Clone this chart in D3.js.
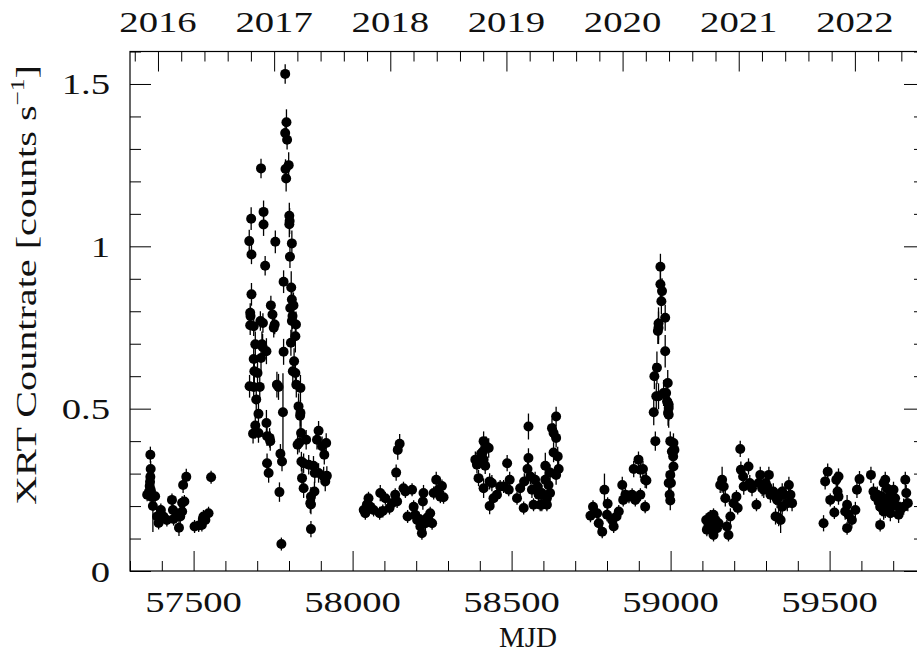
<!DOCTYPE html>
<html><head><meta charset="utf-8">
<script src="https://cdn.jsdelivr.net/npm/d3@7"></script>
<style>
body{margin:0;background:#fff}
svg{display:block}
text{font-family:"Liberation Serif","DejaVu Serif",serif;fill:#111}
</style>
</head><body>
<svg id="c" width="917" height="652"></svg>
<script>
// ---- tick labels ----
const mjdTicks = [57500, 58000, 58500, 59000, 59500];
const yearTicks = [2016, 2017, 2018, 2019, 2020, 2021, 2022];
const rateTicks = [0, 0.5, 1, 1.5];

// ---- observations: [MJD, XRT rate (counts/s), error] per season ----
const season2016 = [
 [57364,0.358,0.025],[57365,0.314,0.025],[57364,0.290,0.025],[57363,0.275,0.025],[57362,0.262,0.02],
 [57365,0.250,0.02],[57354,0.235,0.02],[57379,0.230,0.02],[57360,0.245,0.02],[57368,0.228,0.02],
 [57372,0.200,0.08],[57397,0.188,0.02],[57385,0.168,0.02],[57390,0.148,0.02],[57405,0.168,0.02],
 [57416,0.157,0.02],[57432,0.219,0.02],[57435,0.188,0.02],[57437,0.160,0.02],[57448,0.173,0.02],
 [57454,0.133,0.025],[57458,0.168,0.02],[57464,0.210,0.02],[57471,0.214,0.02],[57464,0.183,0.02],
 [57467,0.265,0.025],[57477,0.290,0.025],[57503,0.137,0.02],[57516,0.140,0.02],[57526,0.142,0.02],
 [57531,0.168,0.02],[57529,0.160,0.02],[57547,0.178,0.02],[57537,0.157,0.02],[57555,0.289,0.02]
];
const season2017 = [
 [57788,1.531,0.03],[57792,1.382,0.04],[57788,1.349,0.03],[57794,1.328,0.03],[57799,1.250,0.04],
 [57789,1.238,0.03],[57791,1.209,0.04],[57712,1.240,0.03],[57681,1.085,0.035],[57720,1.106,0.035],
 [57720,1.067,0.035],[57801,1.094,0.04],[57802,1.078,0.04],[57801,1.068,0.04],[57675,1.016,0.035],
 [57757,1.014,0.035],[57809,1.009,0.04],[57682,0.975,0.03],[57803,0.968,0.035],[57725,0.940,0.03],
 [57783,0.891,0.035],[57807,0.873,0.05],[57682,0.852,0.035],[57809,0.836,0.04],[57804,0.810,0.04],
 [57814,0.818,0.04],[57743,0.818,0.03],[57748,0.790,0.03],[57678,0.795,0.03],[57679,0.785,0.03],
 [57811,0.785,0.04],[57755,0.759,0.03],[57678,0.757,0.03],[57689,0.754,0.03],[57710,0.770,0.03],
 [57718,0.764,0.03],[57809,0.770,0.04],[57822,0.759,0.04],[57752,0.749,0.03],[57820,0.723,0.05],
 [57694,0.698,0.04],[57715,0.698,0.04],[57717,0.690,0.04],[57806,0.703,0.04],[57729,0.677,0.04],
 [57689,0.653,0.04],[57712,0.656,0.04],[57783,0.675,0.04],[57816,0.646,0.04],[57812,0.615,0.04],
 [57820,0.610,0.04],[57691,0.615,0.04],[57701,0.610,0.04],[57676,0.569,0.035],[57689,0.567,0.035],
 [57708,0.567,0.04],[57762,0.574,0.04],[57767,0.567,0.04],[57823,0.574,0.04],[57836,0.564,0.04],
 [57697,0.528,0.04],[57781,0.489,0.12],[57830,0.507,0.04],[57836,0.487,0.04],[57835,0.478,0.04],
 [57704,0.484,0.04],[57729,0.456,0.04],[57694,0.448,0.04],[57687,0.423,0.03],[57704,0.425,0.03],
 [57731,0.415,0.03],[57741,0.400,0.03],[57739,0.410,0.03],[57838,0.425,0.04],[57854,0.404,0.03],
 [57827,0.389,0.03],[57832,0.395,0.03],[57893,0.432,0.03],[57888,0.404,0.03],[57917,0.394,0.03],
 [57904,0.384,0.03],[57911,0.358,0.03],[57773,0.361,0.03],[57778,0.337,0.03],[57731,0.332,0.03],
 [57736,0.302,0.03],[57839,0.337,0.03],[57846,0.332,0.03],[57862,0.327,0.03],[57877,0.324,0.03],
 [57881,0.302,0.03],[57893,0.302,0.03],[57909,0.291,0.03],[57919,0.293,0.03],[57914,0.276,0.03],
 [57841,0.286,0.03],[57846,0.255,0.03],[57880,0.245,0.03],[57869,0.229,0.03],[57867,0.209,0.03],
 [57869,0.205,0.03],[57770,0.243,0.03],[57869,0.129,0.025],[57776,0.083,0.02]
];
const season2018 = [
 [58035,0.188,0.02],[58040,0.178,0.02],[58045,0.205,0.02],[58050,0.224,0.02],[58056,0.198,0.02],
 [58066,0.188,0.02],[58085,0.178,0.02],[58087,0.240,0.025],[58095,0.185,0.02],[58103,0.224,0.02],
 [58116,0.194,0.02],[58124,0.209,0.02],[58134,0.235,0.02],[58140,0.214,0.02],[58137,0.303,0.025],
 [58142,0.373,0.03],[58148,0.392,0.03],[58160,0.255,0.02],[58166,0.245,0.02],[58187,0.250,0.02],
 [58173,0.168,0.02],[58192,0.198,0.02],[58197,0.173,0.02],[58203,0.157,0.02],[58210,0.160,0.02],
 [58213,0.137,0.02],[58218,0.116,0.02],[58223,0.240,0.025],[58221,0.214,0.025],[58229,0.147,0.03],
 [58235,0.165,0.02],[58239,0.157,0.02],[58244,0.178,0.02],[58250,0.147,0.02],[58255,0.240,0.02],
 [58263,0.281,0.025],[58270,0.250,0.02],[58276,0.229,0.02],[58281,0.262,0.02],[58286,0.227,0.02]
];
const season2019 = [
 [58386,0.343,0.025],[58391,0.327,0.025],[58396,0.343,0.025],[58404,0.361,0.03],[58412,0.400,0.03],
 [58410,0.368,0.03],[58420,0.384,0.03],[58428,0.379,0.03],[58412,0.343,0.025],[58417,0.324,0.025],
 [58396,0.286,0.025],[58412,0.255,0.03],[58431,0.276,0.025],[58438,0.271,0.025],[58431,0.200,0.025],
 [58443,0.224,0.02],[58454,0.235,0.02],[58464,0.260,0.02],[58475,0.260,0.02],[58486,0.332,0.025],
 [58494,0.281,0.025],[58491,0.250,0.02],[58517,0.224,0.02],[58527,0.255,0.025],[58538,0.194,0.02],
 [58540,0.276,0.025],[58553,0.445,0.04],[58553,0.348,0.03],[58550,0.314,0.03],[58559,0.291,0.025],
 [58564,0.250,0.025],[58569,0.204,0.02],[58574,0.281,0.025],[58582,0.260,0.025],[58590,0.204,0.02],
 [58595,0.240,0.025],[58606,0.324,0.04],[58611,0.204,0.02],[58616,0.265,0.025],[58621,0.240,0.025],
 [58627,0.440,0.03],[58632,0.425,0.03],[58640,0.476,0.03],[58640,0.410,0.03],[58632,0.365,0.03],
 [58645,0.353,0.03],[58648,0.314,0.03],[58640,0.296,0.03],[58621,0.303,0.025],[58606,0.281,0.025],
 [58585,0.235,0.025],[58611,0.224,0.02],[58595,0.204,0.02]
];
const season2020 = [
 [58756,0.198,0.02],[58748,0.170,0.02],[58769,0.178,0.02],[58774,0.147,0.02],[58785,0.121,0.02],
 [58792,0.250,0.05],[58802,0.207,0.02],[58800,0.173,0.02],[58816,0.157,0.02],[58821,0.137,0.02],
 [58830,0.168,0.02],[58837,0.183,0.02],[58848,0.265,0.025],[58851,0.219,0.02],[58858,0.235,0.02],
 [58869,0.229,0.02],[58879,0.235,0.02],[58884,0.314,0.025],[58899,0.343,0.025],[58905,0.312,0.025],
 [58913,0.314,0.025],[58920,0.281,0.025],[58920,0.198,0.02],[58905,0.235,0.02],[58889,0.219,0.02],
 [58924,0.279,0.025],[58947,0.489,0.04],[58952,0.400,0.03],[58955,0.538,0.04],[58962,0.538,0.04],
 [58978,0.548,0.04],[58989,0.523,0.04],[58994,0.512,0.04],[58992,0.487,0.04],[58991,0.579,0.04],
 [58999,0.400,0.03],[59009,0.394,0.03],[59004,0.368,0.03],[59008,0.353,0.03],[59009,0.322,0.03],
 [58999,0.296,0.03],[59001,0.271,0.03],[58997,0.235,0.03],[58999,0.217,0.03],[58968,0.937,0.04],
 [58968,0.883,0.04],[58973,0.862,0.04],[58971,0.831,0.04],[58983,0.780,0.04],[58962,0.762,0.05],
 [58962,0.749,0.05],[58960,0.739,0.04],[58983,0.677,0.05],[58957,0.626,0.05],[58949,0.600,0.04],
 [58986,0.548,0.04],[58991,0.518,0.04],[58994,0.502,0.04],[58994,0.481,0.04],[59012,0.373,0.03],
 [58994,0.271,0.03]
];
const season2021 = [
 [59112,0.157,0.02],[59119,0.142,0.02],[59125,0.168,0.02],[59135,0.173,0.02],[59141,0.157,0.02],
 [59130,0.127,0.02],[59114,0.127,0.02],[59146,0.132,0.02],[59135,0.111,0.02],[59151,0.147,0.02],
 [59120,0.150,0.02],[59128,0.140,0.02],[59140,0.145,0.02],[59156,0.265,0.025],[59162,0.281,0.04],
 [59167,0.260,0.025],[59172,0.224,0.025],[59177,0.137,0.02],[59182,0.111,0.02],[59188,0.168,0.025],
 [59198,0.209,0.02],[59207,0.229,0.02],[59211,0.194,0.02],[59219,0.376,0.025],[59221,0.312,0.025],
 [59228,0.291,0.025],[59230,0.260,0.025],[59245,0.322,0.025],[59249,0.271,0.025],[59256,0.255,0.025],
 [59270,0.204,0.02],[59277,0.271,0.025],[59282,0.296,0.025],[59288,0.255,0.025],[59293,0.250,0.025],
 [59299,0.271,0.03],[59309,0.296,0.025],[59304,0.260,0.025],[59314,0.235,0.025],[59323,0.245,0.025],
 [59330,0.229,0.025],[59335,0.219,0.025],[59330,0.168,0.025],[59340,0.163,0.025],[59346,0.157,0.04],
 [59351,0.198,0.025],[59356,0.235,0.025],[59372,0.265,0.025],[59377,0.235,0.025],[59382,0.209,0.025],
 [59367,0.209,0.025],[59351,0.245,0.025]
];
const season2022 = [
 [59481,0.147,0.025],[59486,0.276,0.025],[59494,0.306,0.025],[59502,0.219,0.02],[59515,0.180,0.02],
 [59521,0.281,0.025],[59528,0.291,0.025],[59525,0.245,0.025],[59528,0.229,0.025],[59555,0.204,0.03],
 [59549,0.183,0.025],[59560,0.173,0.025],[59555,0.132,0.02],[59570,0.157,0.025],[59581,0.188,0.025],
 [59586,0.250,0.025],[59594,0.283,0.025],[59630,0.296,0.025],[59638,0.245,0.025],[59643,0.229,0.025],
 [59654,0.214,0.025],[59659,0.142,0.02],[59665,0.194,0.025],[59670,0.271,0.025],[59675,0.281,0.025],
 [59680,0.255,0.025],[59685,0.224,0.025],[59691,0.240,0.025],[59696,0.209,0.025],[59701,0.250,0.025],
 [59706,0.224,0.025],[59717,0.173,0.025],[59722,0.188,0.025],[59733,0.198,0.025],[59738,0.281,0.025],
 [59741,0.240,0.025],[59746,0.209,0.025],[59670,0.183,0.025],[59659,0.198,0.025],[59675,0.188,0.025],
 [59691,0.178,0.025],[59664,0.230,0.025],[59680,0.215,0.025],[59686,0.205,0.025],[59700,0.200,0.025],
 [59712,0.200,0.025],[59650,0.235,0.025]
];

// ---- layout ----
const L = 130, R = 925, T = 51.5, B = 571;
const svg = d3.select("#c");
const x = d3.scaleLinear().domain([57300, 59800]).range([L, R]);
const y = d3.scaleLinear().domain([0, 1.6]).range([B, T]);
const yearOf = m => 2016 + (m - 57388) / 365.25;
const xYear = d3.scaleLinear().domain([yearOf(57300), yearOf(59800)]).range([L, R]);

const stretch = (sel, k) => sel.each(function () {
  const w = this.getComputedTextLength();
  this.setAttribute("textLength", w * k);
  this.setAttribute("lengthAdjust", "spacingAndGlyphs");
});
const noDomain = g => g.select(".domain").remove();
const styleTicks = g => g.selectAll(".tick line").attr("stroke", "#000").attr("stroke-width", 1);

// minor tick values
const mjdMinor = d3.range(57300, 59801, 100).filter(v => !mjdTicks.includes(v));
const yearMinor = d3.range(0, 40).map(i => Math.round((2015.2 + i * 0.2) * 10) / 10)
  .filter(v => !Number.isInteger(v) && xYear(v) >= L && xYear(v) <= R + 1);
const rateMinor = d3.range(0, 17).map(i => Math.round(i) / 10).filter(v => !rateTicks.includes(v));

// bottom
svg.append("g").attr("transform", `translate(0,${B})`)
  .call(d3.axisBottom(x).tickValues(mjdTicks).tickSize(-20).tickFormat("")).call(noDomain).call(styleTicks);
svg.append("g").attr("transform", `translate(0,${B})`)
  .call(d3.axisBottom(x).tickValues(mjdMinor).tickSize(-10).tickFormat("")).call(noDomain).call(styleTicks);
// top
svg.append("g").attr("transform", `translate(0,${T})`)
  .call(d3.axisTop(xYear).tickValues(yearTicks).tickSize(-20).tickFormat("")).call(noDomain).call(styleTicks);
svg.append("g").attr("transform", `translate(0,${T})`)
  .call(d3.axisTop(xYear).tickValues(yearMinor).tickSize(-10).tickFormat("")).call(noDomain).call(styleTicks);
// left
svg.append("g").attr("transform", `translate(${L},0)`)
  .call(d3.axisLeft(y).tickValues(rateTicks).tickSize(-21).tickFormat("")).call(noDomain).call(styleTicks);
svg.append("g").attr("transform", `translate(${L},0)`)
  .call(d3.axisLeft(y).tickValues(rateMinor).tickSize(-11).tickFormat("")).call(noDomain).call(styleTicks);
// right
svg.append("g").attr("transform", `translate(${R},0)`)
  .call(d3.axisRight(y).tickValues(rateTicks).tickSize(-21).tickFormat("")).call(noDomain).call(styleTicks);
svg.append("g").attr("transform", `translate(${R},0)`)
  .call(d3.axisRight(y).tickValues(rateMinor).tickSize(-11).tickFormat("")).call(noDomain).call(styleTicks);

// frame
svg.append("rect").attr("x", L).attr("y", T).attr("width", R - L).attr("height", B - T)
  .attr("fill", "none").attr("stroke", "#000").attr("stroke-width", 1.2);

const FS = 30, K = 1.29;
// tick labels
svg.append("g").selectAll("text").data(mjdTicks).join("text")
  .attr("x", d => x(d)).attr("y", 612).attr("text-anchor", "middle").attr("font-size", FS)
  .text(d => d).call(stretch, K);
svg.append("g").selectAll("text").data(yearTicks).join("text")
  .attr("x", d => xYear(d)).attr("y", 32).attr("text-anchor", "middle").attr("font-size", FS)
  .text(d => d).call(stretch, K);
svg.append("g").selectAll("text").data(rateTicks).join("text")
  .attr("x", 110).attr("y", d => y(d) + 10.5).attr("text-anchor", "end").attr("font-size", FS)
  .text(d => d).call(stretch, K);

// axis titles
const mjdTitle = svg.append("text").attr("x", 528).attr("y", 647).attr("text-anchor", "middle")
  .attr("font-size", 30).text("MJD");
stretch(mjdTitle, 0.97);

const yt = svg.append("text").attr("text-anchor", "middle").attr("font-size", FS);
yt.append("tspan").text("XRT Countrate [counts s");
yt.append("tspan").attr("font-size", 19).attr("dy", -12).text("−1");
yt.append("tspan").attr("dy", 12).text("]");
const natural = yt.node().getComputedTextLength();
yt.attr("transform", `translate(36,285) rotate(-90) scale(${440 / natural},1)`);

// data
const all = [].concat(season2016, season2017, season2018, season2019, season2020, season2021, season2022);
const pts = svg.append("g");
pts.selectAll("line").data(all).join("line")
  .attr("x1", d => x(d[0])).attr("x2", d => x(d[0]))
  .attr("y1", d => y(d[1] - d[2])).attr("y2", d => y(d[1] + d[2]))
  .attr("stroke", "#000").attr("stroke-width", 1.3);
pts.selectAll("circle").data(all).join("circle")
  .attr("cx", d => x(d[0])).attr("cy", d => y(d[1])).attr("r", 5).attr("fill", "#000");
</script>
</body></html>
